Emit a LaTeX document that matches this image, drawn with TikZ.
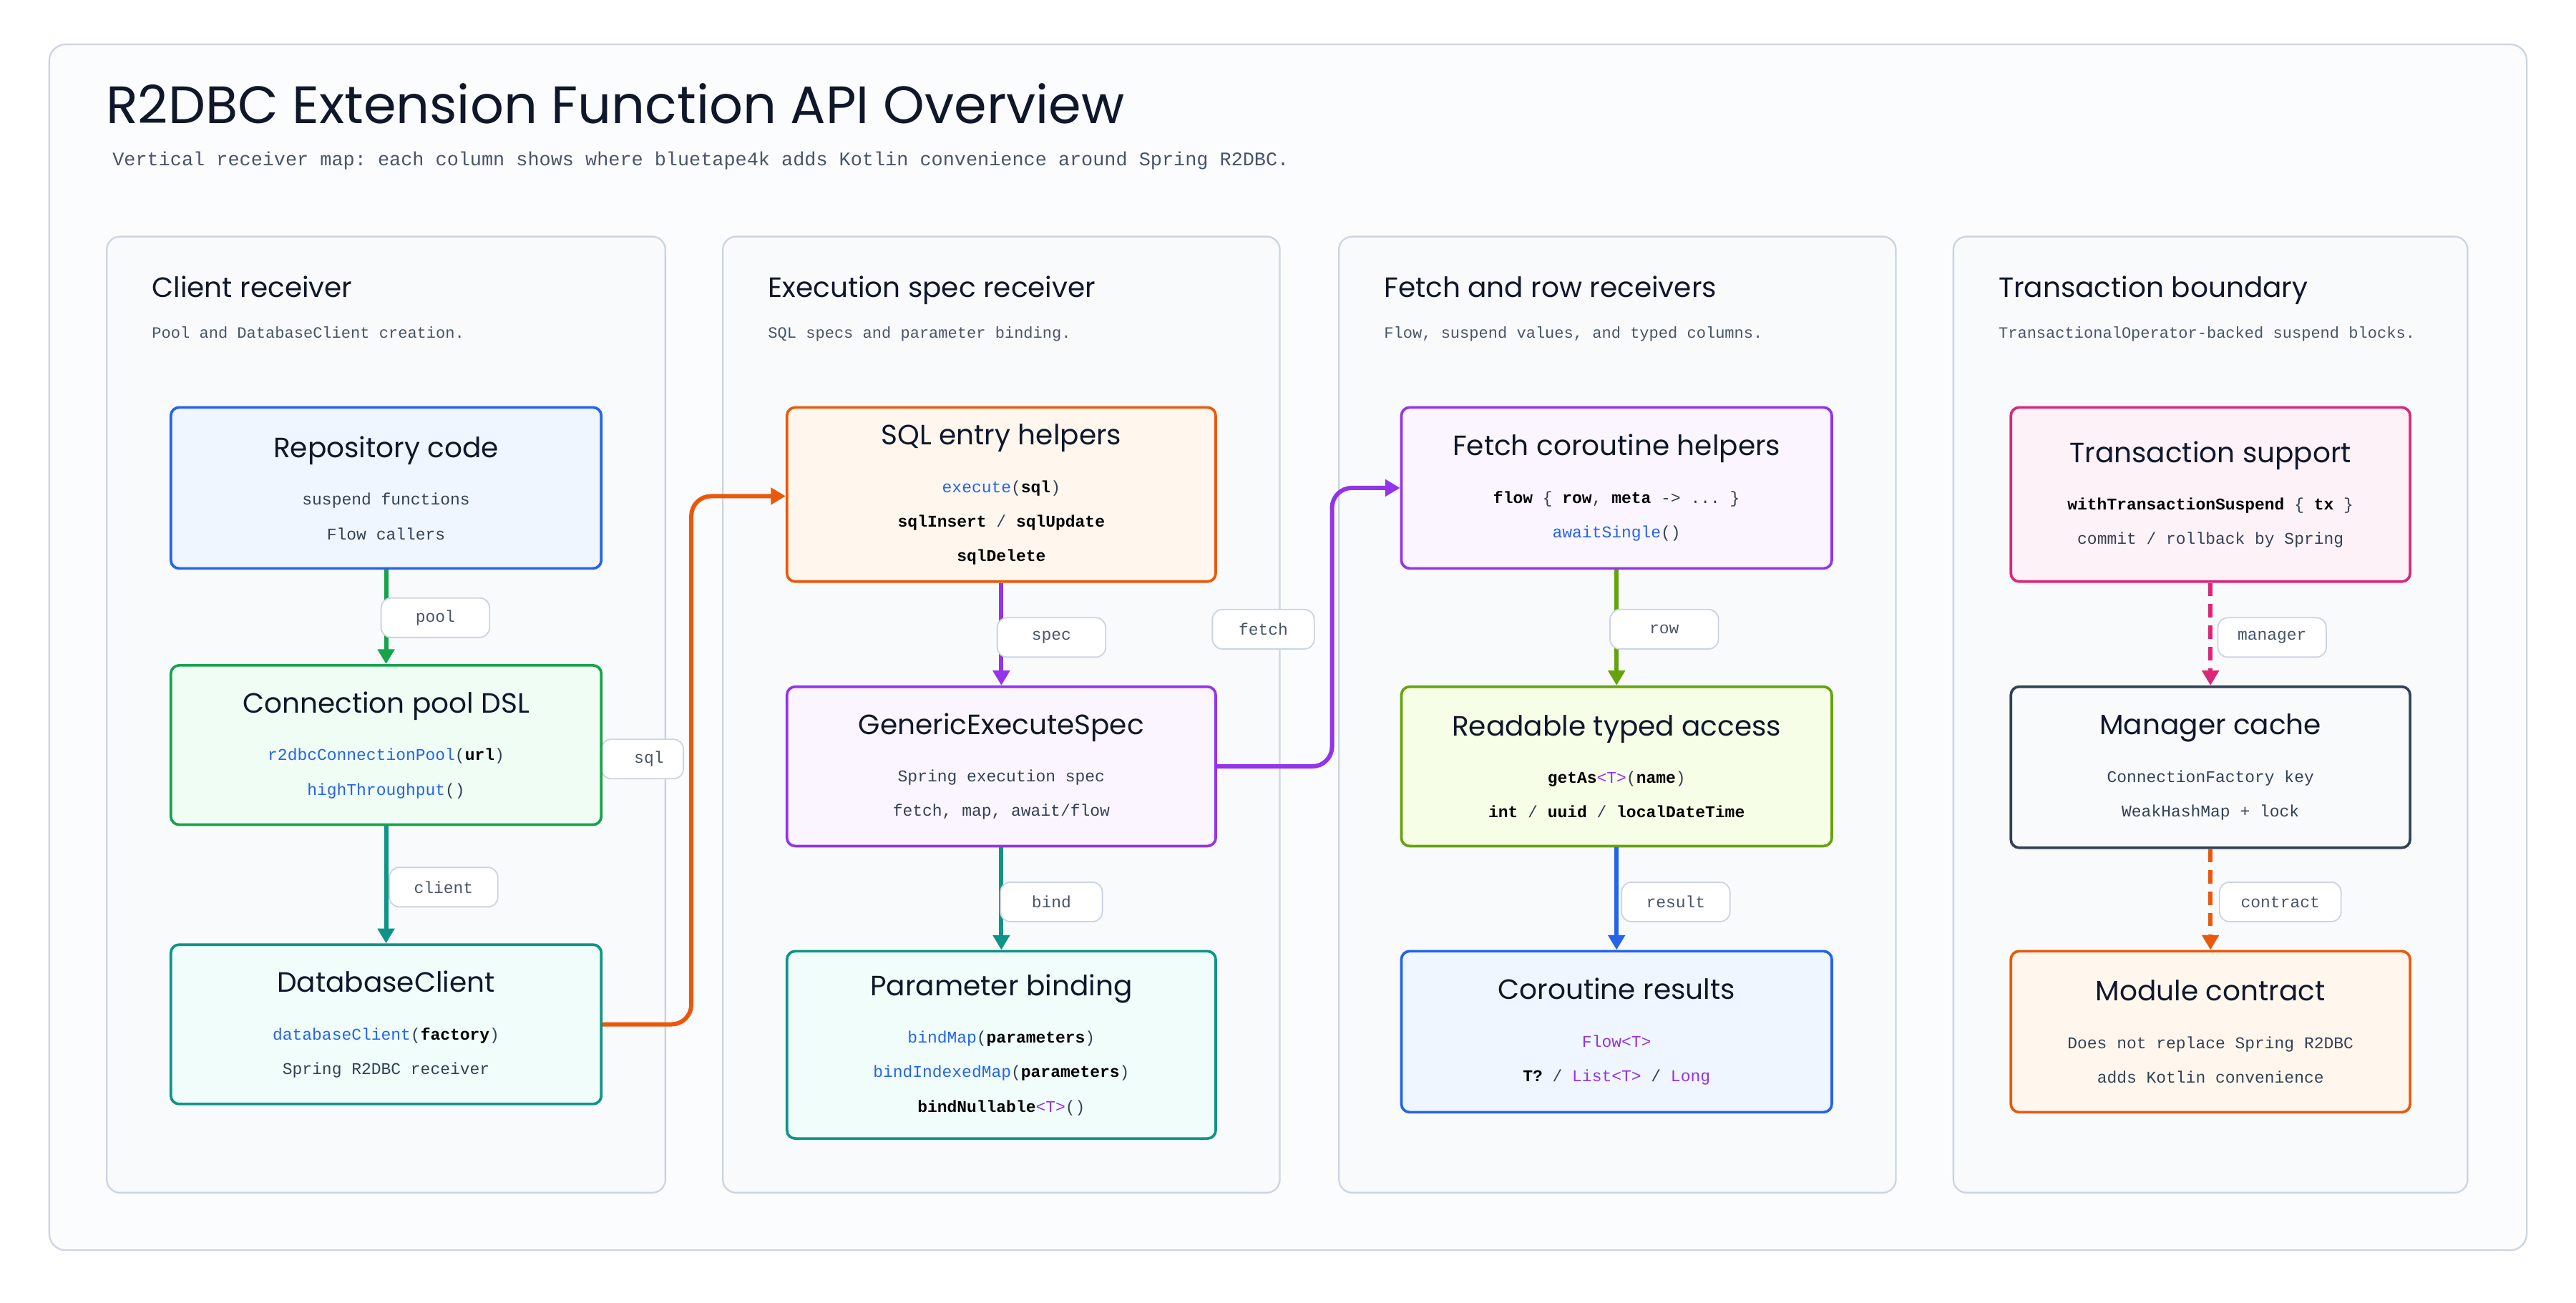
\documentclass[tikz,border=0pt]{standalone}
\usepackage{fontspec}
\setmainfont{Poppins}
\setmonofont{Liberation Mono}
\usetikzlibrary{arrows.meta}
\definecolor{ink}{HTML}{0F172A}
\definecolor{muted}{HTML}{475569}
\definecolor{frame}{HTML}{CBD5E1}
\definecolor{panel}{HTML}{F8FAFC}
\definecolor{cblue}{HTML}{2563EB}
\definecolor{cgreen}{HTML}{16A34A}
\definecolor{cteal}{HTML}{0D9488}
\definecolor{corange}{HTML}{EA580C}
\definecolor{cpurple}{HTML}{9333EA}
\definecolor{clime}{HTML}{65A30D}
\definecolor{cpink}{HTML}{DB2777}
\definecolor{cslate}{HTML}{334155}
\definecolor{fblue}{HTML}{EFF6FF}
\definecolor{fgreen}{HTML}{F0FDF4}
\definecolor{fteal}{HTML}{F0FDFA}
\definecolor{forange}{HTML}{FFF7ED}
\definecolor{fpurple}{HTML}{FAF5FF}
\definecolor{flime}{HTML}{F7FEE7}
\definecolor{fpink}{HTML}{FDF2F8}
\newcommand{\fn}[1]{\textcolor{cblue}{#1}}
\newcommand{\ar}[1]{\textbf{\textcolor{black}{#1}}}
\newcommand{\ty}[1]{\textcolor{cpurple}{#1}}
\newcommand{\cardtitle}{\rmfamily\fontsize{17}{21}\selectfont\color{ink}}
\tikzset{
  card/.style 2 args={draw=#1, fill=#2, line width=1.6pt, rounded corners=5pt,
    inner sep=0pt, align=center, text=cslate, font=\ttfamily\fontsize{10}{21}\selectfont},
  column/.style={draw=frame, fill=panel, line width=1pt, rounded corners=8pt},
  tag/.style={draw=frame, fill=white, line width=0.8pt, rounded corners=6pt,
    minimum height=24pt, inner sep=0pt, text=muted, font=\ttfamily\fontsize{10}{12}\selectfont},
  flow/.style={line width=2.6pt, -{Triangle[length=9pt, width=10pt]}},
  head/.style={anchor=base west, text=ink, font=\rmfamily\fontsize{17}{20}\selectfont},
  subhead/.style={anchor=base west, text=muted, font=\ttfamily\fontsize{9.6}{12}\selectfont}
}
\begin{document}
\begin{tikzpicture}[x=1pt, y=-1pt]
\useasboundingbox[fill=white] (0,0) rectangle (1568,793);
% Frame and title
\draw[draw=frame, fill=panel!60, line width=1pt, rounded corners=10pt] (30,27) rectangle (1538,761);
\node[anchor=base west, text=ink, font=\rmfamily\fontsize{32}{36}\selectfont] (title) at (61,75) {R2DBC Extension Function API Overview};
\node[anchor=base west, text=muted, font=\ttfamily\fontsize{11.7}{14}\selectfont] (subtitle) at (65,101) {Vertical receiver map: each column shows where bluetape4k adds Kotlin convenience around Spring R2DBC.};
% Columns
\draw[column] (65,144) rectangle (405,726);
\draw[column] (440,144) rectangle (779,726);
\draw[column] (815,144) rectangle (1154,726);
\draw[column] (1189,144) rectangle (1502,726);
\node[head] (h1) at (89,181) {Client receiver};
\node[subhead] (s1) at (89,206) {Pool and DatabaseClient creation.};
\node[head] (h2) at (464,181) {Execution spec receiver};
\node[subhead] (s2) at (464,206) {SQL specs and parameter binding.};
\node[head] (h3) at (839,181) {Fetch and row receivers};
\node[subhead] (s3) at (839,206) {Flow, suspend values, and typed columns.};
\node[head] (h4) at (1213,181) {Transaction boundary};
\node[subhead] (s4) at (1213,206) {TransactionalOperator-backed suspend blocks.};
% Tags behind cards
\node[tag, minimum width=50pt] (sqltag) at (391,462) {\hspace*{8pt}sql};
\node[tag, minimum width=62pt] (fetchtag) at (769,383) {fetch};
% Cards
\node[card={cblue}{fblue}, minimum width=262pt, minimum height=98pt] (repo) at (235,297)
  {{\cardtitle Repository code}\\[8pt]suspend functions\\Flow callers};
\node[card={cgreen}{fgreen}, minimum width=262pt, minimum height=97pt] (pool) at (235,453.5)
  {{\cardtitle Connection pool DSL}\\[8pt]\fn{r2dbcConnectionPool}(\ar{url})\\\fn{highThroughput}()};
\node[card={cteal}{fteal}, minimum width=262pt, minimum height=97pt] (dbc) at (235,623.5)
  {{\cardtitle DatabaseClient}\\[8pt]\fn{databaseClient}(\ar{factory})\\Spring R2DBC receiver};
\node[card={corange}{forange}, minimum width=261pt, minimum height=106pt] (sql) at (609.5,301)
  {{\cardtitle SQL entry helpers}\\[8pt]\fn{execute}(\ar{sql})\\\ar{sqlInsert} / \ar{sqlUpdate}\\\ar{sqlDelete}};
\node[card={cpurple}{fpurple}, minimum width=261pt, minimum height=97pt] (gen) at (609.5,466.5)
  {{\cardtitle GenericExecuteSpec}\\[8pt]Spring execution spec\\fetch, map, await/flow};
\node[card={cteal}{fteal}, minimum width=261pt, minimum height=114pt] (par) at (609.5,636)
  {{\cardtitle Parameter binding}\\[8pt]\fn{bindMap}(\ar{parameters})\\\fn{bindIndexedMap}(\ar{parameters})\\\ar{bindNullable}\ty{<T>}()};
\node[card={cpurple}{fpurple}, minimum width=262pt, minimum height=98pt] (fetch) at (984,297)
  {{\cardtitle Fetch coroutine helpers}\\[8pt]\ar{flow} \{ \ar{row}, \ar{meta} -> ... \}\\\fn{awaitSingle}()};
\node[card={clime}{flime}, minimum width=262pt, minimum height=97pt] (read) at (984,466.5)
  {{\cardtitle Readable typed access}\\[8pt]\ar{getAs}\ty{<T>}(\ar{name})\\\ar{int} / \ar{uuid} / \ar{localDateTime}};
\node[card={cblue}{fblue}, minimum width=262pt, minimum height=98pt] (cor) at (984,628)
  {{\cardtitle Coroutine results}\\[8pt]\ty{Flow<T>}\\\ar{T?} / \ty{List<T>} / \ty{Long}};
\node[card={cpink}{fpink}, minimum width=243pt, minimum height=106pt] (tx) at (1345.5,301)
  {{\cardtitle Transaction support}\\[8pt]\ar{withTransactionSuspend} \{ \ar{tx} \}\\commit / rollback by Spring};
\node[card={cslate}{panel}, minimum width=243pt, minimum height=98pt] (mgr) at (1345.5,467)
  {{\cardtitle Manager cache}\\[8pt]ConnectionFactory key\\WeakHashMap + lock};
\node[card={corange}{forange}, minimum width=243pt, minimum height=98pt] (mod) at (1345.5,628)
  {{\cardtitle Module contract}\\[8pt]Does not replace Spring R2DBC\\adds Kotlin convenience};
% Connectors
\draw[flow, cgreen] (repo) -- (pool);
\draw[flow, cteal] (pool) -- (dbc);
\draw[flow, cpurple] (sql) -- (gen);
\draw[flow, cteal] (gen) -- (par);
\draw[flow, clime] (fetch) -- (read);
\draw[flow, cblue] (read) -- (cor);
\draw[flow, cpink, dashed, dash pattern=on 8pt off 5pt] (tx) -- (mgr);
\draw[flow, corange, dashed, dash pattern=on 8pt off 5pt] (mgr) -- (mod);
\draw[flow, corange, rounded corners=12pt] (dbc.east) -- ([xshift=54pt]dbc.east) |- ([yshift=-1pt]sql.west);
\draw[flow, cpurple, rounded corners=12pt] (gen.east) -- ([xshift=70pt]gen.east) |- (fetch.west);
% Tags
\node[tag, minimum width=66pt] (pooltag) at (265,376) {pool};
\node[tag, minimum width=66pt] (clienttag) at (270,540) {client};
\node[tag, minimum width=66pt] (spectag) at (640,388) {spec};
\node[tag, minimum width=62pt] (bindtag) at (640,549) {bind};
\node[tag, minimum width=66pt] (rowtag) at (1013,383) {row};
\node[tag, minimum width=66pt] (resulttag) at (1020,549) {result};
\node[tag, minimum width=66pt] (managertag) at (1383,388) {manager};
\node[tag, minimum width=74pt] (contracttag) at (1388,549) {contract};
\end{tikzpicture}
\end{document}
